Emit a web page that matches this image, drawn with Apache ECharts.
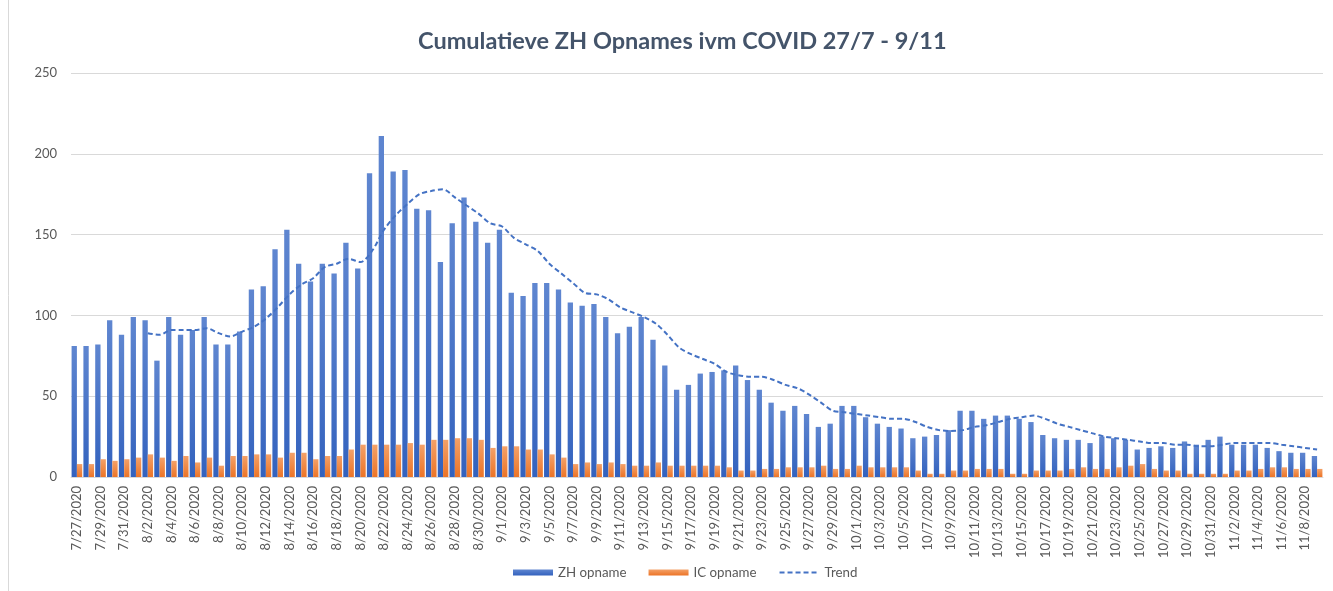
<!DOCTYPE html>
<html>
<head>
<meta charset="utf-8">
<script src="https://cdn.jsdelivr.net/npm/echarts@6/dist/echarts.min.js"></script>
<style>html,body{margin:0;padding:0;background:#fff}#c{width:1333px;height:591px}</style>
</head>
<body>
<div id="c"></div>
<script>
const categories = [
"7/27/2020","7/28/2020","7/29/2020","7/30/2020","7/31/2020",
"8/1/2020","8/2/2020","8/3/2020","8/4/2020","8/5/2020","8/6/2020","8/7/2020","8/8/2020","8/9/2020","8/10/2020",
"8/11/2020","8/12/2020","8/13/2020","8/14/2020","8/15/2020","8/16/2020","8/17/2020","8/18/2020","8/19/2020","8/20/2020",
"8/21/2020","8/22/2020","8/23/2020","8/24/2020","8/25/2020","8/26/2020","8/27/2020","8/28/2020","8/29/2020","8/30/2020","8/31/2020",
"9/1/2020","9/2/2020","9/3/2020","9/4/2020","9/5/2020","9/6/2020","9/7/2020","9/8/2020","9/9/2020","9/10/2020",
"9/11/2020","9/12/2020","9/13/2020","9/14/2020","9/15/2020","9/16/2020","9/17/2020","9/18/2020","9/19/2020","9/20/2020",
"9/21/2020","9/22/2020","9/23/2020","9/24/2020","9/25/2020","9/26/2020","9/27/2020","9/28/2020","9/29/2020","9/30/2020",
"10/1/2020","10/2/2020","10/3/2020","10/4/2020","10/5/2020","10/6/2020","10/7/2020","10/8/2020","10/9/2020","10/10/2020",
"10/11/2020","10/12/2020","10/13/2020","10/14/2020","10/15/2020","10/16/2020","10/17/2020","10/18/2020","10/19/2020","10/20/2020",
"10/21/2020","10/22/2020","10/23/2020","10/24/2020","10/25/2020","10/26/2020","10/27/2020","10/28/2020","10/29/2020","10/30/2020","10/31/2020",
"11/1/2020","11/2/2020","11/3/2020","11/4/2020","11/5/2020","11/6/2020","11/7/2020","11/8/2020","11/9/2020"
];
const zhOpname = [
81,81,82,97,88,
99,97,72,99,88,91,99,82,82,90,
116,118,141,153,132,121,132,126,145,129,
188,211,189,190,166,165,133,157,173,158,145,
153,114,112,120,120,116,108,106,107,99,
89,93,99,85,69,54,57,64,65,66,
69,60,54,46,41,44,39,31,33,44,
44,37,33,31,30,24,25,26,29,41,
41,36,38,38,36,34,26,24,23,23,
21,25,24,23,17,18,19,18,22,20,23,
25,20,20,20,18,16,15,15,13
];
const icOpname = [
8,8,11,10,11,
12,14,12,10,13,9,12,7,13,13,
14,14,12,15,15,11,13,13,17,20,
20,20,20,21,20,23,23,24,24,23,18,
19,19,17,17,14,12,8,9,8,9,
8,7,7,9,7,7,7,7,7,6,
4,4,5,5,6,6,6,7,5,5,
7,6,6,6,6,4,2,2,4,4,
5,5,5,2,2,4,4,4,5,6,
5,5,6,7,8,5,4,4,2,2,2,
2,4,4,5,6,6,5,5,5
];
const trend = [
null,null,null,null,null,
null,89,88,91,91,91,92,89,87,90,
93,98,105,113,119,123,130,132,135,133,
140,153,162,169,175,177,178,173,168,163,157,
155,148,144,140,132,126,120,114,113,110,
105,102,99,95,88,80,76,73,70,65,
63,62,62,60,57,55,51,46,41,40,
39,38,37,36,36,34,31,29,28.5,29,
31,32,34,36,37,38,36,33,31,29,
27,25,24,23,22,21,21,20,20,19,19,
20,21,21,21,21,20,19,18,17
];
const yTicks = [0,50,100,150,200,250];

const chart = echarts.init(document.getElementById('c'), null, {renderer:'canvas'});
const font = 'Lato, "Open Sans", sans-serif';
const blueGrad = new echarts.graphic.LinearGradient(0,0,0,1,[{offset:0,color:'#5F86D0'},{offset:1,color:'#3362BE'}]);
const orangeGrad = new echarts.graphic.LinearGradient(0,0,0,1,[{offset:0,color:'#F4A168'},{offset:1,color:'#EC7427'}]);
chart.setOption({
  animation:false,
  backgroundColor:'#ffffff',
  title:{
    text:'Cumulatieve ZH Opnames ivm COVID 27/7 - 9/11',
    left:413, top:24,
    textStyle:{fontFamily:font,fontSize:23.5,fontWeight:'bold',color:'#44546A'}
  },
  graphic:[{type:'line',shape:{x1:8.5,y1:0,x2:8.5,y2:591},style:{stroke:'#D9D9D9',lineWidth:1}}],
  legend:{
    bottom:7, left:508,
    itemWidth:40, itemHeight:6, itemGap:22,
    textStyle:{fontFamily:font,fontSize:13.3,color:'#595959'},
    data:[{name:'ZH opname',icon:'rect'},{name:'IC opname',icon:'rect'},{name:'Trend',itemStyle:{opacity:0}}]
  },
  grid:{left:71,right:10,top:73,bottom:114,containLabel:false},
  xAxis:{
    type:'category', data:categories,
    axisLine:{lineStyle:{color:'#D9D9D9'}},
    axisTick:{interval:1,length:5,lineStyle:{color:'#D9D9D9'}},
    axisLabel:{interval:1,rotate:90,margin:9,fontFamily:font,fontSize:13,color:'#595959'}
  },
  yAxis:{
    type:'value', min:yTicks[0], max:yTicks[yTicks.length-1], interval:50,
    axisLine:{show:false}, axisTick:{show:false},
    splitLine:{lineStyle:{color:'#D9D9D9',width:1}},
    axisLabel:{margin:14,fontFamily:font,fontSize:13,color:'#595959'}
  },
  series:[
    {name:'ZH opname',type:'bar',data:zhOpname,barGap:'0%',barCategoryGap:'10%',
     itemStyle:{color:blueGrad}},
    {name:'IC opname',type:'bar',data:icOpname,barGap:'0%',barCategoryGap:'10%',
     itemStyle:{color:orangeGrad}},
    {name:'Trend',type:'line',data:trend,symbol:'none',smooth:0.3,connectNulls:false,
     itemStyle:{color:'#4472C4'},
     lineStyle:{color:'#4472C4',width:2,type:[5,3]},z:5}
  ]
});
</script>
</body>
</html>
